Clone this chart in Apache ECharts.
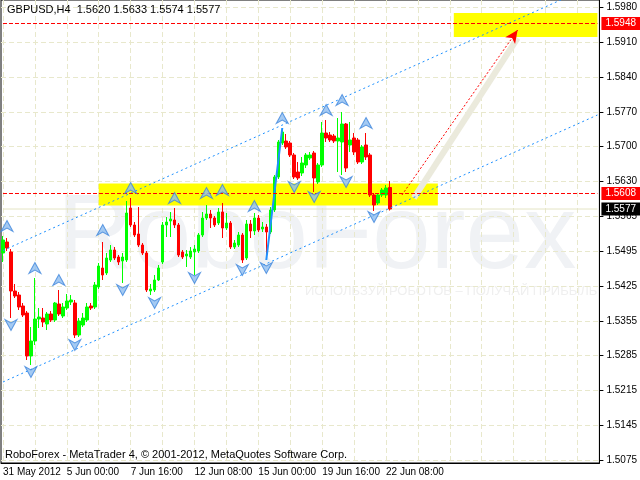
<!DOCTYPE html>
<html><head><meta charset="utf-8">
<script src="https://cdn.jsdelivr.net/npm/echarts@6/dist/echarts.min.js"></script>
<style>html,body{margin:0;padding:0;background:#fff}#c{width:640px;height:480px}</style>
</head><body><div id="c"></div>
<script>
// ---------- data ----------
const symbolName = 'GBPUSD,H4';
const tickLabels = ['31 May 2012','5 Jun 00:00','7 Jun 16:00','12 Jun 08:00','15 Jun 00:00','19 Jun 16:00','22 Jun 08:00'];
const yTickLabels = ['1.5075','1.5145','1.5215','1.5285','1.5355','1.5425','1.5495','1.5565','1.5630','1.5700','1.5770','1.5840','1.5910','1.5980'];

const openV  = [1.5489,1.5511,1.5491,1.5413,1.5405,1.5383,1.5369,1.5283,1.5313,1.5357,1.5359,1.5347,1.5367,1.5355,1.5387,1.5363,1.5379,1.5391,1.5389,1.5325,
1.5345,1.5355,1.5383,1.5381,1.5421,1.5459,1.5449,1.5475,1.5495,1.5481,1.5473,1.5475,1.5579,1.5545,1.5527,1.5505,1.5489,1.5413,1.5415,1.5435,
1.5471,1.5545,1.5553,1.5555,1.5545,1.5491,1.5483,1.5481,1.5491,1.5493,1.5525,1.5559,1.5567,1.5559,1.5549,1.5571,1.5539,1.5549,1.5501,1.5505,
1.5525,1.5479,1.5547,1.5533,1.5559,1.5537,1.5541,1.5531,1.5575,1.5641,1.5709,1.5713,1.5709,1.5685,1.5651,1.5649,1.5665,1.5679,1.5689,1.5631,
1.5665,1.5729,1.5725,1.5723,1.5713,1.5711,1.5747,1.5705,1.5719,1.5715,1.5671,1.5705,1.5685,1.5605,1.5589,1.5605,1.5605,1.5620];
const closeV = [1.5515,1.5499,1.5413,1.5403,1.5381,1.5365,1.5283,1.5313,1.5357,1.5361,1.5351,1.5367,1.5355,1.5389,1.5367,1.5381,1.5393,1.5395,1.5325,1.5353,
1.5359,1.5381,1.5379,1.5425,1.5463,1.5445,1.5479,1.5495,1.5479,1.5471,1.5481,1.5569,1.5545,1.5525,1.5505,1.5489,1.5415,1.5417,1.5435,1.5459,
1.5545,1.5551,1.5557,1.5545,1.5485,1.5481,1.5487,1.5493,1.5497,1.5525,1.5559,1.5567,1.5559,1.5545,1.5571,1.5539,1.5549,1.5501,1.5509,1.5525,
1.5475,1.5547,1.5533,1.5559,1.5535,1.5541,1.5531,1.5575,1.5641,1.5711,1.5731,1.5701,1.5685,1.5641,1.5639,1.5669,1.5685,1.5685,1.5639,1.5665,
1.5729,1.5719,1.5715,1.5713,1.5719,1.5747,1.5659,1.5715,1.5691,1.5671,1.5701,1.5681,1.5605,1.5585,1.5605,1.5615,1.5619,1.5577];
const lowV   = [1.5471,1.5493,1.5359,1.5399,1.5375,1.5361,1.5275,1.5265,1.5305,1.5339,1.5341,1.5335,1.5351,1.5351,1.5363,1.5359,1.5375,1.5385,1.5319,1.5321,
1.5341,1.5351,1.5375,1.5377,1.5417,1.5435,1.5445,1.5471,1.5475,1.5465,1.5429,1.5471,1.5541,1.5521,1.5501,1.5485,1.5411,1.5405,1.5411,1.5433,
1.5467,1.5521,1.5521,1.5539,1.5481,1.5477,1.5461,1.5477,1.5445,1.5489,1.5521,1.5555,1.5539,1.5541,1.5545,1.5519,1.5535,1.5497,1.5497,1.5501,
1.5469,1.5475,1.5519,1.5525,1.5531,1.5531,1.5477,1.5527,1.5571,1.5637,1.5705,1.5697,1.5681,1.5637,1.5635,1.5643,1.5659,1.5675,1.5611,1.5627,
1.5661,1.5711,1.5711,1.5709,1.5651,1.5645,1.5651,1.5691,1.5685,1.5667,1.5667,1.5675,1.5601,1.5573,1.5585,1.5601,1.5599,1.5574];
const highV  = [1.5523,1.5519,1.5497,1.5427,1.5411,1.5389,1.5373,1.5341,1.5439,1.5379,1.5379,1.5371,1.5373,1.5391,1.5415,1.5389,1.5407,1.5405,1.5395,1.5359,
1.5369,1.5389,1.5389,1.5431,1.5469,1.5511,1.5489,1.5505,1.5501,1.5485,1.5489,1.5593,1.5599,1.5551,1.5581,1.5509,1.5493,1.5427,1.5445,1.5465,
1.5551,1.5561,1.5571,1.5579,1.5549,1.5495,1.5495,1.5501,1.5505,1.5529,1.5571,1.5585,1.5575,1.5563,1.5579,1.5589,1.5569,1.5553,1.5515,1.5531,
1.5529,1.5555,1.5555,1.5569,1.5565,1.5551,1.5547,1.5581,1.5645,1.5715,1.5739,1.5727,1.5713,1.5689,1.5671,1.5681,1.5689,1.5691,1.5693,1.5669,
1.5751,1.5755,1.5731,1.5727,1.5759,1.5771,1.5749,1.5751,1.5729,1.5719,1.5705,1.5729,1.5689,1.5609,1.5609,1.5619,1.5625,1.5633];

// fractal arrows (bar index, price)
const upArrowIdx = [1,8,14,25,32,43,51,55,63,70,81,85,91];
const upArrowVal = [1.5543,1.5459,1.5435,1.5535,1.5619,1.5599,1.5609,1.5615,1.5583,1.5759,1.5775,1.5795,1.5749];
const dnArrowIdx = [2,7,18,30,38,48,60,66,73,78,86,93];
const dnArrowVal = [1.5345,1.5251,1.5305,1.5415,1.5389,1.5439,1.5455,1.5459,1.5621,1.5601,1.5631,1.5561];

// channel lines (bar index, price)
const channelIdx = [0, 149];
const channelUpper = [1.5494, 1.6028];
const channelLower = [1.5231, 1.5765];

// zigzag
const zigzagIdx = [66, 68, 70];
const zigzagVal = [1.5475, 1.5607, 1.5739];

// zones
const zoneTargetIdx = [113, 149], zoneTargetVal = [1.5921, 1.5969];
const zoneSupportIdx = [24, 109], zoneSupportVal = [1.5584, 1.5628];

// horizontal levels
const levelVals = [1.5948, 1.5608];
const lastPrice = 1.5577;

// forecast arrow and path
const arrowIdx = [100, 129], arrowVal = [1.5605, 1.5935];
const pathIdx = [103, 129], pathVal = [1.5599, 1.5919];

// ---------- categories (H4 bars, weekends skipped) ----------
const months = ['Jan','Feb','Mar','Apr','May','Jun','Jul','Aug','Sep','Oct','Nov','Dec'];
const categories = [];
let t = Date.UTC(2012, 4, 31, 8);
while (categories.length < 150) {
  const d = new Date(t); const wd = d.getUTCDay();
  if (wd !== 0 && wd !== 6) categories.push(d.getUTCDate() + ' ' + months[d.getUTCMonth()] + ' ' + String(d.getUTCHours()).padStart(2, '0') + ':00');
  t += 4 * 3600 * 1000;
}
const lastIdx = categories.length - 1;

const yStep = (parseFloat(yTickLabels[yTickLabels.length - 1]) - parseFloat(yTickLabels[0])) / (yTickLabels.length - 1);
const yTickValues = yTickLabels.map((s, k) => parseFloat(yTickLabels[0]) + k * yStep);
const yLabelOf = v => yTickLabels[Math.round((v - parseFloat(yTickLabels[0])) / yStep)] || '';

const candleData = openV.map((o, i) => [o, closeV[i], lowV[i], highV[i]]);
const header = symbolName + '  ' + [openV, highV, lowV, closeV].map(a => a[a.length - 1].toFixed(4)).join(' ');

const FONT = '"Liberation Sans", Arial, sans-serif';
const upPath = 'path://M6,0 L12,11 L6,7.5 L0,11 Z';
const dnPath = 'path://M6,11 L12,0 L6,3.5 L0,0 Z';
const grid = '#e8e8cc';

function hLine(name, v, color, type, bg, z) {
  return {
    type: 'line', name: name, z: z, silent: true, symbol: 'none', color: color,
    lineStyle: {color: color, type: type, width: 1},
    data: [[0, v], [lastIdx, v]],
    endLabel: {show: true, distance: 4, formatter: v.toFixed(4), backgroundColor: bg, color: '#fff',
      padding: [2, 4, 1, 4], fontSize: 10, fontFamily: FONT}
  };
}

const chart = echarts.init(document.getElementById('c'), null, {renderer: 'canvas'});
chart.setOption({
  animation: false,
  backgroundColor: '#ffffff',
  textStyle: {fontFamily: FONT},
  grid: {left: 1, right: 39, top: 0, bottom: 17, show: true, borderColor: '#000', borderWidth: 1},
  xAxis: {
    type: 'category', data: categories, boundaryGap: true,
    axisLine: {lineStyle: {color: '#000', width: 1}},
    axisTick: {alignWithLabel: true, interval: (i) => i % 16 === 0 && i <= 96, length: 4, lineStyle: {color: '#000'}},
    axisLabel: {interval: (i) => i % 16 === 0 && i <= 96, formatter: (v, i) => tickLabels[i / 16] || '', align: 'left',
      fontSize: 10, color: '#000', margin: 4, fontFamily: FONT},
    splitLine: {show: true, interval: (i) => i % 8 === 0, alignWithLabel: true, lineStyle: {color: grid, type: [5, 3], width: 1}}
  },
  yAxis: {
    type: 'value', position: 'right', min: 1.5069, max: 1.5995, scale: true,
    axisLine: {show: true, lineStyle: {color: '#000', width: 1}},
    axisTick: {show: true, customValues: yTickValues, length: 4, lineStyle: {color: '#000'}},
    axisLabel: {customValues: yTickValues, formatter: v => yLabelOf(v), fontSize: 10, color: '#000', margin: 7, fontFamily: FONT},
    splitLine: {show: true, lineStyle: {color: grid, type: [5, 3], width: 1}}
  },
  graphic: [
    {type: 'text', left: 57, top: 187, z: -10, silent: true, style: {text: 'RoboForex', font: '105px ' + FONT, fill: '#f0f2f5'}},
    {type: 'text', left: 305, top: 285, z: -10, silent: true, style: {text: 'ИСПОЛЬЗУЙ РОБОТОВ – ПОЛУЧАЙ ПРИБЫЛЬ', font: '13px ' + FONT, fill: '#efefef'}},
    {type: 'text', left: 7, top: 4, z: 100, silent: true, style: {text: header, font: '11px ' + FONT, fill: '#000'}},
    {type: 'text', left: 5, top: 449, z: 100, silent: true, style: {text: 'RoboForex - MetaTrader 4, © 2001-2012, MetaQuotes Software Corp.', font: '11px ' + FONT, fill: '#000'}}
  ],
  series: [
    {
      type: 'line', name: 'zones', data: [], z: 1, silent: true,
      markArea: {silent: true, itemStyle: {color: '#ffff00'}, data: [
        [{xAxis: zoneTargetIdx[0], yAxis: zoneTargetVal[1]}, {xAxis: zoneTargetIdx[1], yAxis: zoneTargetVal[0]}],
        [{xAxis: zoneSupportIdx[0], yAxis: zoneSupportVal[1]}, {xAxis: zoneSupportIdx[1], yAxis: zoneSupportVal[0]}]
      ]}
    },
    hLine('lastPrice', lastPrice, '#e4e4c4', 'solid', '#000000', 2),
    {
      type: 'line', name: 'path', z: 2, silent: true, symbol: 'none',
      lineStyle: {color: '#ebeadc', width: 6},
      data: [[pathIdx[0], pathVal[0]], {value: [pathIdx[1], pathVal[1]], symbol: 'rect', symbolSize: 8, itemStyle: {color: '#c8c8c0'}}]
    },
    {
      type: 'candlestick', name: 'GBPUSD', data: candleData, barWidth: 3, z: 3,
      itemStyle: {color: '#00ff00', color0: '#ff0000', borderColor: '#00ff00', borderColor0: '#ff0000', borderWidth: 1}
    },
    ...levelVals.map((v, k) => hLine('level' + k, v, '#ff0000', [4, 2], '#ff0000', 5)),
    {
      type: 'line', name: 'channelUpper', z: 4, silent: true, symbol: 'none',
      lineStyle: {color: '#1e90ff', width: 1, type: [2, 3]},
      data: channelIdx.map((x, i) => [x, channelUpper[i]])
    },
    {
      type: 'line', name: 'channelLower', z: 4, silent: true, symbol: 'none',
      lineStyle: {color: '#1e90ff', width: 1, type: [2, 3]},
      data: channelIdx.map((x, i) => [x, channelLower[i]])
    },
    {
      type: 'line', name: 'zigzag', z: 4, silent: true, symbol: 'rect', symbolSize: 7,
      lineStyle: {color: '#1e90ff', width: 2},
      itemStyle: {color: '#ffffff', borderColor: '#1e90ff', borderWidth: 1.5},
      data: zigzagIdx.map((x, i) => [x, zigzagVal[i]])
    },
    {
      type: 'scatter', name: 'up', z: 6, silent: true, symbol: upPath, symbolSize: [12, 11],
      itemStyle: {color: '#8dbdf0', borderColor: '#3f86dc', borderWidth: 1},
      data: upArrowIdx.map((x, i) => [x, upArrowVal[i]])
    },
    {
      type: 'scatter', name: 'down', z: 6, silent: true, symbol: dnPath, symbolSize: [12, 11],
      itemStyle: {color: '#8dbdf0', borderColor: '#3f86dc', borderWidth: 1},
      data: dnArrowIdx.map((x, i) => [x, dnArrowVal[i]])
    },
    {
      type: 'line', name: 'forecast', data: [], z: 7, silent: true, color: '#ff0000',
      markLine: {silent: true, symbol: ['none', 'arrow'], symbolSize: [9, 13], label: {show: false},
        lineStyle: {color: '#ff0000', type: [2, 2], width: 1},
        data: [[{coord: [arrowIdx[0], arrowVal[0]]}, {coord: [arrowIdx[1], arrowVal[1]]}]]}
    }
  ]
});
</script>
</body></html>
